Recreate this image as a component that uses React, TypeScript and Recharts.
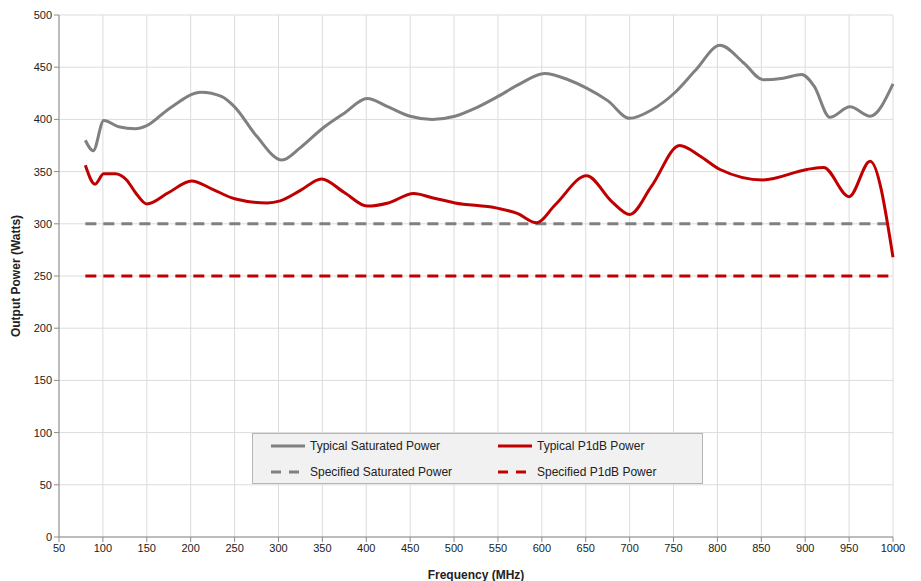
import React from "react"
import {
  LineChart,
  Line,
  XAxis,
  YAxis,
  CartesianGrid,
} from "recharts"

// Typical Saturated Power
const satFreq = [80, 89, 101, 118, 137, 150, 175, 212, 235, 250, 275, 304, 325, 351, 375, 401, 425, 450, 475, 501, 525, 550, 575, 603, 630, 651, 675, 700, 725, 752, 775, 803, 830, 852, 875, 896, 910, 928, 951, 974, 1000]
const satPower = [380, 370, 399, 393, 391, 394, 410, 426, 422, 412, 384, 361, 373, 392, 406, 420, 412, 403, 400, 403, 411, 422, 434, 444, 438, 430, 418, 401, 409, 426, 447, 471, 454, 438, 439.5, 443, 432, 402, 412, 403, 434]

// Typical P1dB Power
const p1dbFreq = [80, 91, 101, 114, 127, 137, 150, 175, 201, 225, 250, 287, 302, 325, 349, 375, 401, 425, 454, 475, 501, 549, 572, 594, 615, 651, 680, 700, 725, 757, 780, 803, 852, 902, 921, 950, 974, 1000]
const p1dbPower = [356, 338, 348, 348, 342, 330, 319, 330, 341, 333, 324, 320, 322, 332, 343, 330, 317, 320, 329, 325, 320, 315, 310, 301, 318, 346, 321, 309, 336, 375, 365, 352, 342, 352, 354, 326, 360, 268]

// Specified limits
const specFreq = [80, 1000]
const specSatPower = [300, 300]
const specP1dbPower = [250, 250]

const xTicks = [50, 100, 150, 200, 250, 300, 350, 400, 450, 500, 550, 600, 650, 700, 750, 800, 850, 900, 950, 1000]
const yTicks = [0, 50, 100, 150, 200, 250, 300, 350, 400, 450, 500]

const toPoints = (xs: number[], ys: number[]) => xs.map((f, i) => ({ f, v: ys[i] }))

const satData = toPoints(satFreq, satPower)
const p1dbData = toPoints(p1dbFreq, p1dbPower)
const specSatData = toPoints(specFreq, specSatPower)
const specP1dbData = toPoints(specFreq, specP1dbPower)

const GRAY = "#808080"
const RED = "#c00000"
const FONT = "'Liberation Sans', Arial, sans-serif"

function LegendBox() {
  const item = (color: string, dashed: boolean, label: string) => (
    <div style={{ display: "flex", alignItems: "center", height: 26 }}>
      <svg width={36} height={8} style={{ marginRight: 4 }}>
        <line
          x1={1}
          y1={4}
          x2={35}
          y2={4}
          stroke={color}
          strokeWidth={3}
          strokeDasharray={dashed ? "10 8" : undefined}
        />
      </svg>
      <span>{label}</span>
    </div>
  )
  return (
    <div
      style={{
        position: "absolute",
        left: 252,
        top: 433,
        width: 451,
        height: 51,
        boxSizing: "border-box",
        background: "#f1f1f1",
        border: "1px solid #b5b5b5",
        fontFamily: FONT,
        fontSize: 12,
        color: "#222",
        display: "grid",
        gridTemplateColumns: "227px 220px",
        paddingLeft: 17,
        alignContent: "center",
      }}
    >
      {item(GRAY, false, "Typical Saturated Power")}
      {item(RED, false, "Typical P1dB Power")}
      {item(GRAY, true, "Specified Saturated Power")}
      {item(RED, true, "Specified P1dB Power")}
    </div>
  )
}

export default function App() {
  return (
    <div style={{ position: "absolute", left: 0, top: 0, width: 921, height: 581, background: "#fff" }}>
      <LineChart width={921} height={581} margin={{ top: 15, right: 28, bottom: 0, left: 0 }}>
        <CartesianGrid stroke="#dcdcdc" />
        <XAxis
          type="number"
          dataKey="f"
          domain={[50, 1000]}
          ticks={xTicks}
          allowDuplicatedCategory={false}
          height={44}
          stroke="#8c8c8c"
          tickSize={5}
          tick={{ fontSize: 11, fill: "#222", fontFamily: FONT }}
          label={{
            value: "Frequency (MHz)",
            position: "insideBottom",
            offset: 2,
            style: { fontSize: 12, fontWeight: "bold", fill: "#222", fontFamily: FONT },
          }}
        />
        <YAxis
          type="number"
          domain={[0, 500]}
          ticks={yTicks}
          width={59}
          stroke="#8c8c8c"
          tickSize={5}
          tick={{ fontSize: 11, fill: "#222", fontFamily: FONT }}
          label={{
            value: "Output Power (Watts)",
            angle: -90,
            position: "insideLeft",
            offset: 16,
            style: { textAnchor: "middle", fontSize: 12, fontWeight: "bold", fill: "#222", fontFamily: FONT },
          }}
        />
        <Line data={specSatData} dataKey="v" stroke={GRAY} strokeWidth={3} strokeDasharray="11 7" dot={false} isAnimationActive={false} />
        <Line data={specP1dbData} dataKey="v" stroke={RED} strokeWidth={3} strokeDasharray="11 7" dot={false} isAnimationActive={false} />
        <Line data={satData} dataKey="v" type="monotone" stroke={GRAY} strokeWidth={3} dot={false} isAnimationActive={false} />
        <Line data={p1dbData} dataKey="v" type="monotone" stroke={RED} strokeWidth={3} dot={false} isAnimationActive={false} />
      </LineChart>
      <LegendBox />
    </div>
  )
}
